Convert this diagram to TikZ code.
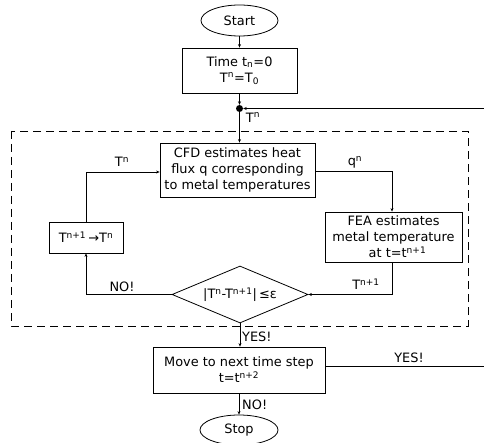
\documentclass[tikz,border=0pt]{standalone}
\usepackage{fontspec}
\setmainfont{DejaVu Sans}
\usetikzlibrary{shapes.geometric,arrows.meta,calc}
\newcommand\spr[1]{\textsuperscript{#1}}
\newcommand\sbr[1]{\textsubscript{#1}}
\tikzset{
  base/.style={draw=black, line width=0.8pt, inner sep=1pt, align=center},
  procbox/.style={base, rectangle},
  termbox/.style={base, ellipse},
  decbox/.style={base, diamond, aspect=2.4},
  lbl/.style={inner sep=0pt},
  junction/.style={circle, fill=black, inner sep=0pt, minimum size=7pt},
  conn/.style={line width=0.8pt, -{Stealth[length=3.5pt,width=3pt]}},
  plain/.style={line width=0.8pt},
  group/.style={line width=0.8pt, dash pattern=on 8pt off 5pt}
}
\begin{document}
\begin{tikzpicture}[x=1pt,y=-1pt,font=\fontsize{12.9}{16}\selectfont]
\useasboundingbox (0,0) rectangle (484,443);
% dashed group
\draw[group] (11,131) rectangle (468,326);
% nodes
\node[termbox, minimum width=77pt, minimum height=31pt] (start) at (239.5,20.5) {Start};
\node[procbox, minimum width=115pt, minimum height=45pt] (time) at (239.5,70.5) {Time t\sbr{n}=0\\T\spr{n}=T\sbr{0}};
\node[junction] (dot) at (239.5,108.5) {};
\coordinate (fbin) at (484,108.5);
\node[procbox, minimum width=155pt, minimum height=54pt, inner sep=0pt] (cfd) at (237.5,170) {CFD estimates heat\\flux q corresponding\\to metal temperatures};
\node[procbox, minimum width=74pt, minimum height=31pt] (upd) at (86,237.5) {T\spr{n+1}\,→T\spr{n}};
\node[procbox, minimum width=137pt, minimum height=50pt, inner sep=0pt] (fea) at (393.5,237) {FEA estimates\\metal temperature\\\hspace*{8pt}at t=t\spr{n+1}};
\node[decbox, minimum width=136pt, minimum height=57pt, inner sep=0pt] (dec) at (240,294.5) {};
\node at (240,294.5) {|T\spr{n}-T\spr{n+1}|\,≤ε};
\node[procbox, minimum width=172pt, minimum height=46pt] (move) at (239,370) {Move to next time step\\t=t\spr{n+2}};
\node[termbox, minimum width=78pt, minimum height=30pt, inner sep=0pt] (stop) at (239,430) {Stop};
\coordinate (yout) at (484,366);
% connectors
\draw[conn] (start) -- (time);
\draw[conn] (time) -- (dot);
\draw[conn] (fbin) -- (dot);
\draw[conn] (dot) -- (cfd.north -| dot);
\draw[conn] (upd.north) |- (cfd.west |- 0,172);
\draw[conn] (cfd.east |- 0,171) -| (fea.north -| 392,0);
\draw[conn] (fea.south -| 392,0) |- (dec.east);
\draw[conn] (dec.west) -| (upd.south);
\draw[conn] (dec.south) -- (move.north -| dec.south);
\draw[plain] (move.east |- yout) -- (yout);
\draw[conn] (move.south) -- (stop.north);
% labels
\node[lbl] at (253,117.5) {T\spr{n}};
\node[lbl] at (122,162) {T\spr{n}};
\node[lbl] at (355,162) {q\spr{n}};
\node[lbl] at (366,284) {T\spr{n+1}};
\node[lbl] at (122,287) {NO!};
\node[lbl, anchor=west] at (242,337) {YES!};
\node[lbl] at (409,358) {YES!};
\node[lbl, anchor=west] at (242,405) {NO!};
\end{tikzpicture}
\end{document}
